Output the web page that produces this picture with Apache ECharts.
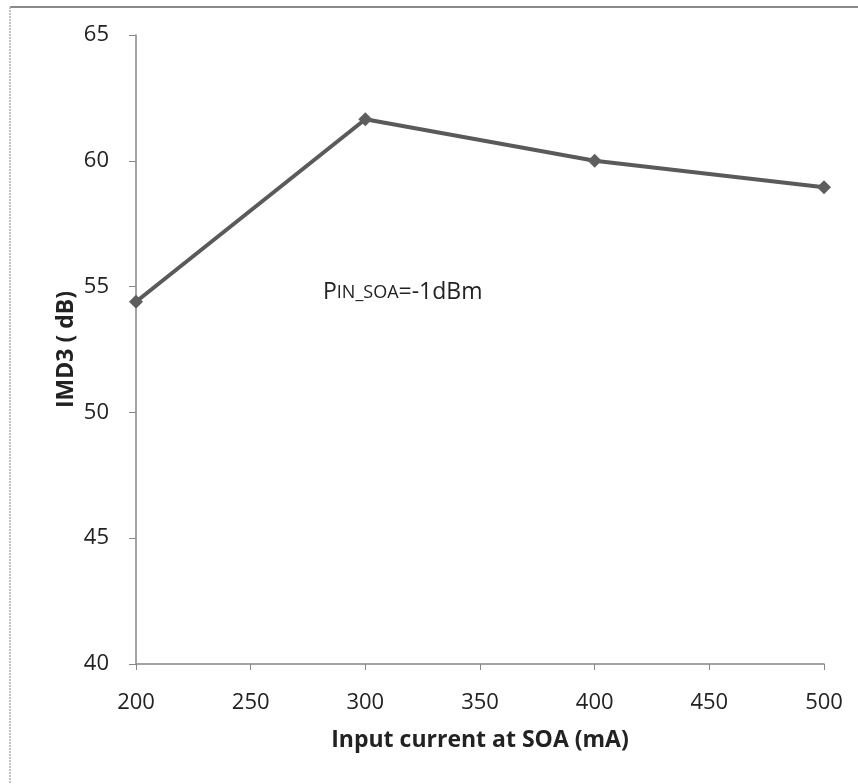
<!DOCTYPE html>
<html><head><meta charset="utf-8">
<script src="https://cdn.jsdelivr.net/npm/echarts@6/dist/echarts.min.js"></script>
<style>html,body{margin:0;padding:0;background:#fff}#c{width:858px;height:784px}</style>
</head><body><div id="c"></div>
<script>
const currents = [200, 300, 400, 500];
const imd3 = [54.4, 61.65, 60.0, 58.95];
const xTicks = [200, 250, 300, 350, 400, 450, 500];
const yTicks = [40, 45, 50, 55, 60, 65];
const xName = 'Input current at SOA (mA)';
const yName = 'IMD3 ( dB)';

const chart = echarts.init(document.getElementById('c'));
const font = '"Open Sans", "Liberation Sans", sans-serif';
chart.setOption({
  animation: false,
  backgroundColor: '#fff',
  title: {
    text: '{a|P}{b|IN_SOA}{a|=-1dBm}',
    left: 318, top: 276,
    textStyle: { fontWeight: 'normal', rich: {
      a: { fontFamily: font, fontSize: 23, fontWeight: 'normal', color: '#222' },
      b: { fontFamily: font, fontSize: 18, fontWeight: 'normal', color: '#222' }
    }}
  },
  graphic: [
    { type: 'line', shape: { x1: 10, y1: 7, x2: 858, y2: 7 }, style: { stroke: '#8a8a8a', lineWidth: 2 } },
    { type: 'line', shape: { x1: 10, y1: 7, x2: 10, y2: 784 }, style: { stroke: '#b0b0b0', lineWidth: 1.5, lineDash: [2, 1] } }
  ],
  grid: { left: 136, right: 34, top: 35, bottom: 120 },
  xAxis: {
    type: 'value', min: xTicks[0], max: xTicks[xTicks.length - 1], interval: 50,
    name: xName, nameLocation: 'middle', nameGap: 65, nameMoveOverlap: false,
    nameTextStyle: { fontFamily: font, fontSize: 23, fontWeight: 'bold', color: '#222' },
    axisLine: { show: true, lineStyle: { color: '#878787', width: 1.5 } },
    axisTick: { show: true, length: 6, lineStyle: { color: '#878787' } },
    axisLabel: { fontFamily: font, fontSize: 22, color: '#222', margin: 28 },
    splitLine: { show: false }
  },
  yAxis: {
    type: 'value', min: yTicks[0], max: yTicks[yTicks.length - 1], interval: 5,
    name: yName, nameLocation: 'middle', nameGap: 58, nameRotate: 90, nameMoveOverlap: false,
    nameTextStyle: { fontFamily: font, fontSize: 23, fontWeight: 'bold', color: '#222' },
    axisLine: { show: true, lineStyle: { color: '#878787', width: 1.5 } },
    axisTick: { show: true, length: 7, lineStyle: { color: '#878787' } },
    axisLabel: { fontFamily: font, fontSize: 22, color: '#222', margin: 27 },
    splitLine: { show: false }
  },
  series: [{
    type: 'line',
    data: currents.map((x, i) => [x, imd3[i]]),
    symbol: 'diamond', symbolSize: 14,
    lineStyle: { color: '#5a5a5a', width: 4 },
    itemStyle: { color: '#5e5e5e' }
  }]
});
</script></body></html>
